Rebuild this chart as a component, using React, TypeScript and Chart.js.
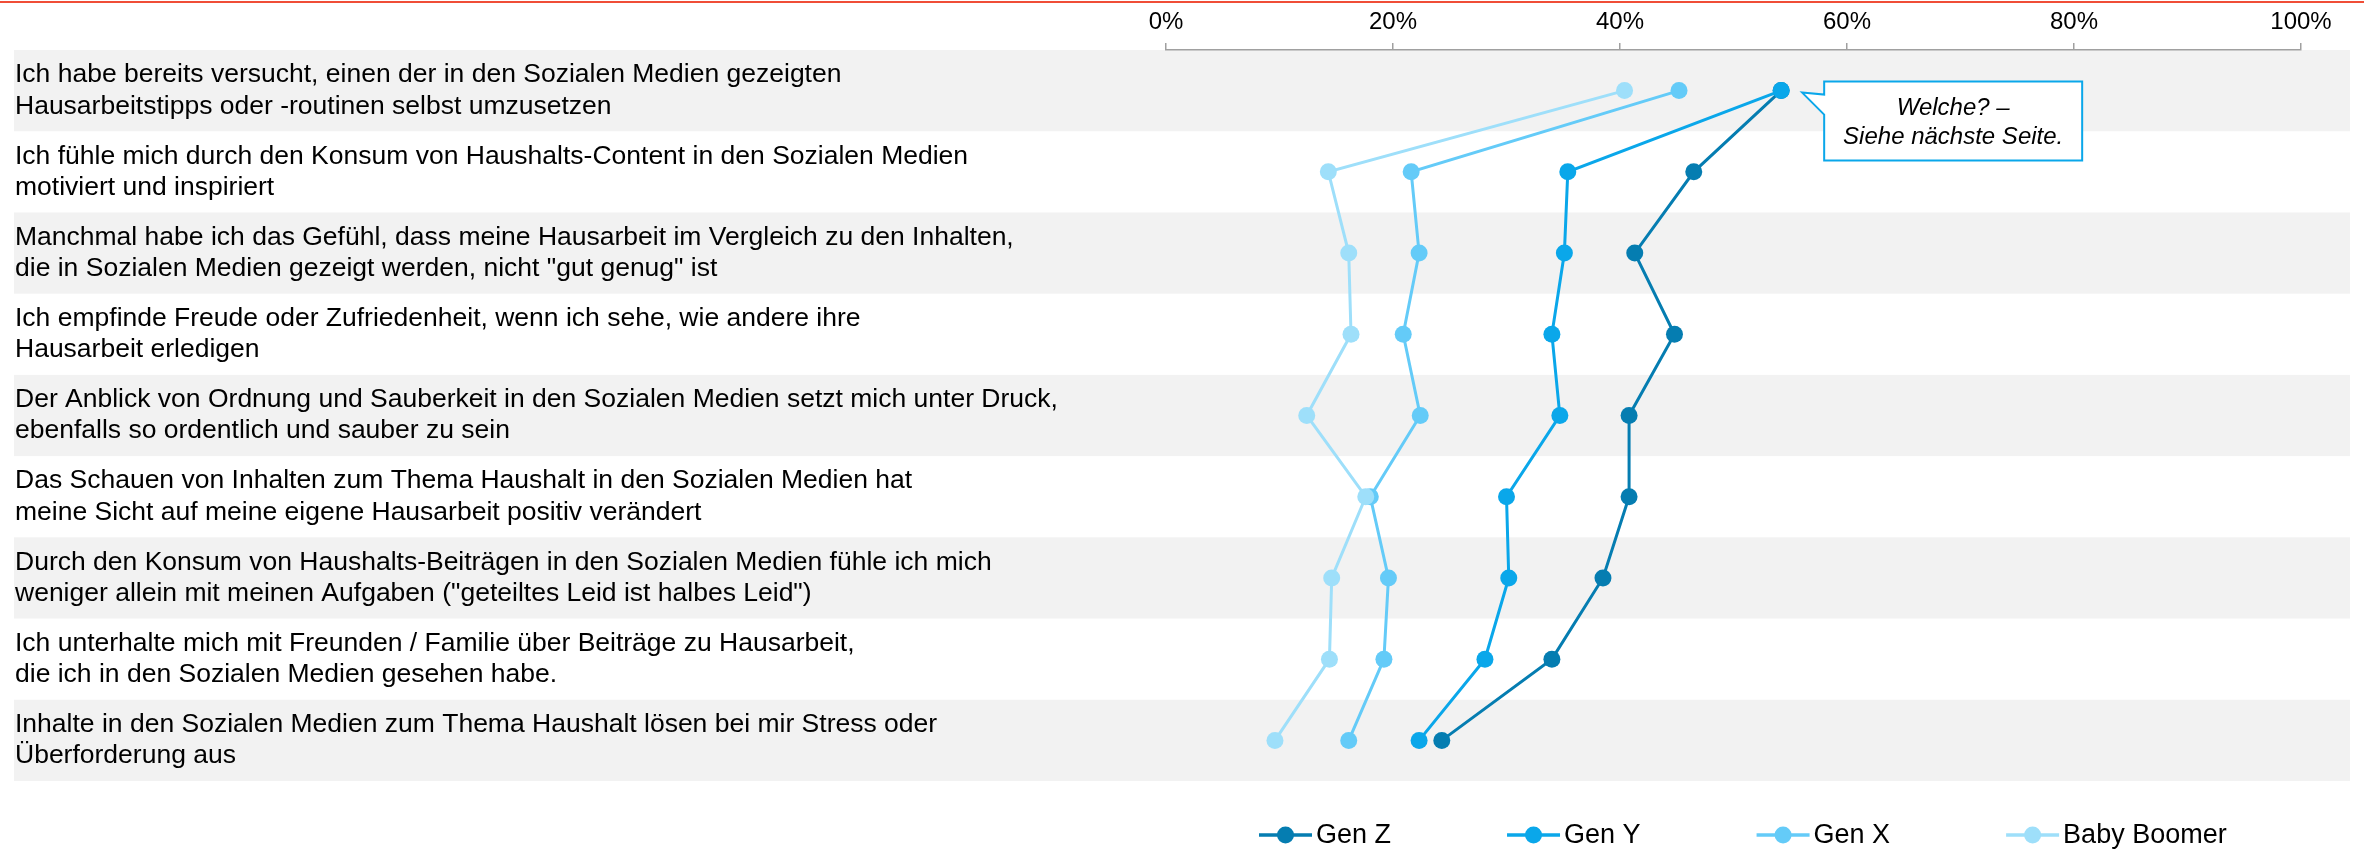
import React, { useEffect, useRef } from 'react';
import { Chart, registerables } from 'chart.js';

Chart.register(...registerables);

const categories: string[][] = [
  ['Ich habe bereits versucht, einen der in den Sozialen Medien gezeigten', 'Hausarbeitstipps oder -routinen selbst umzusetzen'],
  ['Ich fühle mich durch den Konsum von Haushalts-Content in den Sozialen Medien', 'motiviert und inspiriert'],
  ['Manchmal habe ich das Gefühl, dass meine Hausarbeit im Vergleich zu den Inhalten,', 'die in Sozialen Medien gezeigt werden, nicht "gut genug" ist'],
  ['Ich empfinde Freude oder Zufriedenheit, wenn ich sehe, wie andere ihre', 'Hausarbeit erledigen'],
  ['Der Anblick von Ordnung und Sauberkeit in den Sozialen Medien setzt mich unter Druck,', 'ebenfalls so ordentlich und sauber zu sein'],
  ['Das Schauen von Inhalten zum Thema Haushalt in den Sozialen Medien hat', 'meine Sicht auf meine eigene Hausarbeit positiv verändert'],
  ['Durch den Konsum von Haushalts-Beiträgen in den Sozialen Medien fühle ich mich', 'weniger allein mit meinen Aufgaben ("geteiltes Leid ist halbes Leid")'],
  ['Ich unterhalte mich mit Freunden / Familie über Beiträge zu Hausarbeit,', 'die ich in den Sozialen Medien gesehen habe.'],
  ['Inhalte in den Sozialen Medien zum Thema Haushalt lösen bei mir Stress oder', 'Überforderung aus'],
];

const seriesNames = ['Gen Z', 'Gen Y', 'Gen X', 'Baby Boomer'];
const genZ = [54.2, 46.5, 41.3, 44.8, 40.8, 40.8, 38.5, 34.0, 24.3];
const genY = [54.2, 35.4, 35.1, 34.0, 34.7, 30.0, 30.2, 28.1, 22.3];
const genX = [45.2, 21.6, 22.3, 20.9, 22.4, 18.0, 19.6, 19.2, 16.1];
const babyBoomer = [40.4, 14.3, 16.1, 16.3, 12.4, 17.6, 14.6, 14.4, 9.6];
const seriesColors = ['#057db1', '#0aa7ea', '#64cbf8', '#9edffa'];
const xTickMin = 0;
const xTickMax = 100;
const xTickStep = 20;
const calloutLines = ['Welche? –', 'Siehe nächste Seite.'];

const FONT = 'Arial, "Liberation Sans", Helvetica, sans-serif';

const bandsPlugin = {
  id: 'bands',
  beforeDraw(chart: any) {
    const { ctx, scales } = chart;
    const y = scales.y;
    const n = categories.length;
    const step = n > 1 ? y.getPixelForValue(1) - y.getPixelForValue(0) : y.height;
    ctx.save();
    ctx.fillStyle = '#f2f2f2';
    for (let i = 0; i < n; i += 2) {
      const c = y.getPixelForValue(i);
      ctx.fillRect(14, c - step / 2, chart.width - 28, step);
    }
    ctx.restore();
  },
};

const decorPlugin = {
  id: 'decor',
  afterDraw(chart: any) {
    const { ctx, chartArea } = chart;
    ctx.save();
    // top red rule
    ctx.strokeStyle = '#f04e37';
    ctx.lineWidth = 2;
    ctx.beginPath();
    ctx.moveTo(0, 2);
    ctx.lineTo(chart.width, 2);
    ctx.stroke();

    // callout anchored to Gen Y first point
    const pt = chart.getDatasetMeta(1).data[0];
    if (pt) {
      const px = pt.x;
      const py = pt.y;
      const bx = px + 43;
      const by = py - 9;
      const bw = 258;
      const bh = 79;
      ctx.fillStyle = '#ffffff';
      ctx.strokeStyle = seriesColors[1];
      ctx.lineWidth = 2;
      ctx.beginPath();
      ctx.moveTo(bx, by);
      ctx.lineTo(bx + bw, by);
      ctx.lineTo(bx + bw, by + bh);
      ctx.lineTo(bx, by + bh);
      ctx.lineTo(bx, py + 24);
      ctx.lineTo(px + 21, py + 2);
      ctx.lineTo(bx, py + 4);
      ctx.closePath();
      ctx.fill();
      ctx.stroke();
      ctx.fillStyle = '#000';
      ctx.font = 'italic 24px ' + FONT;
      ctx.textAlign = 'center';
      ctx.textBaseline = 'middle';
      ctx.fillText(calloutLines[0], bx + bw / 2, by + 27);
      ctx.fillText(calloutLines[1], bx + bw / 2, by + 56);
    }

    // legend
    const ly = chartArea.bottom + 54;
    let lx = chartArea.left + 93;
    ctx.font = '27px ' + FONT;
    ctx.textAlign = 'left';
    ctx.textBaseline = 'middle';
    chart.data.datasets.forEach((ds: any) => {
      const col = ds.borderColor;
      ctx.strokeStyle = col;
      ctx.lineWidth = 3.5;
      ctx.beginPath();
      ctx.moveTo(lx, ly);
      ctx.lineTo(lx + 53, ly);
      ctx.stroke();
      ctx.fillStyle = col;
      ctx.beginPath();
      ctx.arc(lx + 26.5, ly, 8.5, 0, Math.PI * 2);
      ctx.fill();
      ctx.fillStyle = '#000';
      ctx.fillText(ds.label, lx + 57, ly + 1);
      const tw = ctx.measureText(ds.label).width;
      lx += 53 + 4 + tw + 116;
    });
    ctx.restore();
  },
};

export default function App() {
  const ref = useRef<HTMLCanvasElement | null>(null);
  useEffect(() => {
    if (!ref.current) return;
    const series = [genZ, genY, genX, babyBoomer];
    const chart = new Chart(ref.current, {
      type: 'line',
      data: {
        labels: categories,
        datasets: series.map((d, i) => ({
          label: seriesNames[i],
          data: d,
          borderColor: seriesColors[i],
          backgroundColor: seriesColors[i],
          pointBackgroundColor: seriesColors[i],
          pointBorderWidth: 0,
          pointRadius: 8.5,
          borderWidth: 3,
          tension: 0,
          fill: false,
          order: 4 - i,
          clip: false as any,
        })),
      },
      options: {
        indexAxis: 'y',
        responsive: false,
        animation: false,
        events: [],
        layout: { padding: { left: 15, right: 63, top: 0, bottom: 68 } },
        plugins: {
          legend: { display: false },
          tooltip: { enabled: false },
        },
        scales: {
          x: {
            type: 'linear',
            position: 'top',
            min: xTickMin,
            max: xTickMax,
            afterFit(scale: any) {
              scale.height = 50;
            },
            ticks: {
              stepSize: xTickStep,
              padding: 6,
              maxRotation: 0,
              color: '#000',
              font: { family: FONT, size: 24 },
              callback: (v: any) => v + '%',
            },
            grid: {
              drawOnChartArea: false,
              drawTicks: true,
              tickLength: 7,
              color: '#a0a0a0',
              lineWidth: 1.5,
            },
            border: { display: true, color: '#a0a0a0', width: 1.5 },
          },
          y: {
            type: 'category',
            offset: true,
            afterFit(scale: any) {
              scale.width = 1151;
            },
            ticks: {
              autoSkip: false,
              crossAlign: 'far',
              padding: 0,
              color: '#000',
              font: { family: FONT, size: 26.5, lineHeight: 1.18 },
            },
            grid: { display: false },
            border: { display: false },
          },
        },
      },
      plugins: [bandsPlugin, decorPlugin],
    } as any);
    return () => chart.destroy();
  }, []);
  return (
    <div style={{ position: 'fixed', left: 0, top: 0, width: 2364, height: 849, background: '#fff' }}>
      <canvas ref={ref} width={2364} height={849} style={{ display: 'block' }} />
    </div>
  );
}
